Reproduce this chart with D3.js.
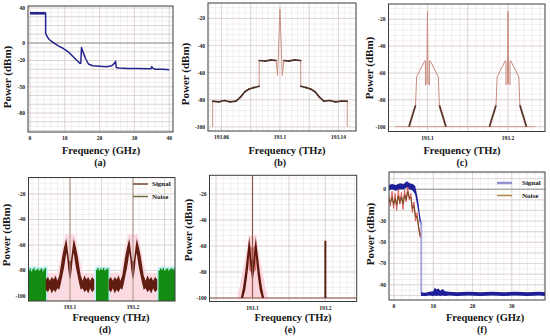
<!DOCTYPE html>
<html>
<head>
<meta charset="utf-8">
<script src="https://cdn.jsdelivr.net/npm/d3@7"></script>
<style>
  body { margin: 0; background: #fff; }
  svg { display: block; }
  text { font-family: "Liberation Serif", "Times New Roman", serif; font-weight: bold; fill: #151515; }
</style>
</head>
<body>
<script>
// ---- (a) electrical spectrum, GHz / dBm
const aBandFreq = [0, 4.5];
const aBandHi = [35.5, 35.5];
const aBandLo = [32.5, 32.5];
const aFreq = [0, 4.5, 4.5, 5.0, 5.5, 6.5, 8, 9.5, 11, 12.5, 13.5, 14.3, 14.6, 14.8, 15.3, 16, 16.8, 18, 20, 22, 23.5, 24.3, 24.6, 24.8, 25.5, 28, 31, 34.7, 35, 35.4, 36, 38, 40];
const aPow = [34, 34, 11, 7, 4, 1, -3, -6, -10, -16, -20, -23, -23, -5, -11, -18, -24, -26, -26.5, -27, -26, -23, -21, -28, -28.5, -29, -29, -29.5, -27, -29, -30, -30, -30.5];

// ---- (b) optical spectrum of one channel, THz / dBm
const bFreq = [193.054, 193.054, 193.058, 193.062, 193.066, 193.070, 193.073, 193.076, 193.079, 193.082, 193.0858, 193.0858, 193.090, 193.094, 193.0973, 193.0984, 193.1, 193.1016, 193.1027, 193.106, 193.110, 193.1142, 193.1142, 193.118, 193.121, 193.124, 193.127, 193.130, 193.134, 193.138, 193.142, 193.146, 193.146];
const bPow = [-100, -81, -81.5, -80.5, -81.5, -81, -78, -74, -72, -71, -70, -51, -51.5, -50.5, -51, -62, -13, -62, -51, -51.5, -50.5, -51, -70, -71, -72, -74, -78, -81, -80.5, -81.5, -81, -81, -100];
// 1 = noisy (dark) segment between point i and i+1
const bDark = [0, 1, 1, 1, 1, 1, 1, 1, 1, 1, 0, 1, 1, 1, 0, 0, 0, 0, 1, 1, 1, 0, 1, 1, 1, 1, 1, 1, 1, 1, 1, 0];

// ---- (c) two channels, THz / dBm
const cCenters = [193.1, 193.2];
const cBase = [193.06, 193.234];
const cOff = [-0.023, -0.0148, -0.0135, -0.0035, -0.0025, -0.0025, -0.0008, 0, 0.0008, 0.0025, 0.0025, 0.0035, 0.0135, 0.0148, 0.023];
const cPow = [-100, -84, -63, -51, -51, -69, -68, -14, -68, -69, -51, -51, -63, -84, -100];
const cDark = [1, 0, 0, 0, 0, 0, 0, 0, 0, 0, 0, 0, 0, 1];

// ---- (d) signal + noise, THz / dBm
const dCenters = [193.1, 193.2];
const dNoiseFreq = [193.034, 193.036, 193.038, 193.040, 193.042, 193.044, 193.046, 193.048, 193.050, 193.052, 193.054, 193.056, 193.058, 193.060, 193.062, null,
  193.1413, 193.1435, 193.1457, 193.1479, 193.1501, 193.1523, 193.1545, 193.1567, 193.1589, 193.1611, null,
  193.2405, 193.2427, 193.2449, 193.2471, 193.2493, 193.2515, 193.2537, 193.2559, 193.2581, 193.2603, 193.2625, 193.2647, 193.2667];
const dNoisePow = [-80, -78.5, -80.5, -79, -78, -80, -79.5, -78.5, -80, -79, -78.5, -80.5, -79, -78, -80, null,
  -79.5, -78, -80, -78.5, -79.5, -78, -80, -79, -78.5, -80, null,
  -80, -78.5, -79.5, -78, -80, -79, -78.5, -80, -79, -78, -79.5, -78.5, -80];
const dHaloOff = [-0.0385, -0.020, -0.016, -0.011, -0.0065, -0.002, 0, 0.002, 0.0065, 0.011, 0.016, 0.020, 0.0385];
const dHaloHi = [-82, -82, -72, -58, -51, -52, -50, -52, -51, -58, -72, -82, -82];
const dSigOff = [-0.0385, -0.035, -0.032, -0.029, -0.026, -0.023, -0.020, -0.017, -0.0145, -0.012, -0.0095, -0.0075, -0.006, -0.0045, -0.003, -0.0015, 0, 0.0015, 0.003, 0.0045, 0.006, 0.0075, 0.0095, 0.012, 0.0145, 0.017, 0.020, 0.023, 0.026, 0.029, 0.032, 0.035, 0.0385];
const dSigHi = [-87, -85, -88, -85, -87, -84, -88, -84, -76, -68, -62, -58, -55, -60, -66, -72, -73, -72, -66, -60, -55, -58, -62, -68, -76, -84, -88, -84, -87, -85, -88, -85, -87];
const dSigLo = [-95, -97, -94, -98, -95, -97, -94, -95, -90, -84, -78, -72, -66, -70, -78, -84, -87, -84, -78, -70, -66, -72, -78, -84, -90, -95, -94, -97, -95, -98, -94, -97, -95];

// ---- (e) THz / dBm
const eOff = [-0.016, -0.013, -0.010, -0.0075, -0.0055, -0.0045, -0.003, -0.0015, 0, 0.0015, 0.003, 0.0045, 0.0055, 0.0075, 0.010, 0.013, 0.016];
const eHi = [-100, -92, -80, -68, -58, -53, -62, -70, -74, -70, -62, -53, -58, -68, -80, -92, -100];
const eLo = [-100, -100, -94, -84, -74, -66, -74, -82, -88, -82, -74, -66, -74, -84, -94, -100, -100];
const eRedOff = [-0.005, -0.0025, 0, 0.0025, 0.005];
const eRedHi = [-56, -60, -62, -60, -56];
const eRedLo = [-78, -80, -82, -80, -78];
const eHaloOff = [-0.021, -0.008, -0.005, 0, 0.005, 0.008, 0.021];
const eHaloHi = [-101, -64, -51, -53, -51, -64, -101];
const eCh1 = 193.1, eCh2 = 193.2, eCh2Pow = -56;

// ---- (f) GHz / dBm
const fSigFreq = [-1.3, -0.5, 0.5, 1.5, 2.5, 3.2, 4, 4.8, 5.4, 5.8, 6.2, 6.6, 6.9];
const fSigHi = [4, 5, 4, 5.5, 5, 7.5, 5.5, 5, 3, -4, -12, -24, -30];
const fSigLo = [-1, 0, -1.5, 0, 0, 1.5, 0, -1.5, -5, -13, -21, -32, -34];
const fDropFreq = 6.95;
const fDropPow = [-30, -99];
const fFloorFreq = [6.9, 8, 9, 10, 10.4, 10.8, 11.3, 11.8, 12.4, 13, 14, 16, 19, 22, 25, 28, 31, 34, 37, 38.5];
const fFloorHi = [-97, -97.5, -96.5, -96, -92.5, -94.5, -93.5, -95.5, -94, -96, -96.5, -97, -96.5, -97, -96.5, -97, -96.5, -97, -96.5, -97];
const fFloorLo = [-100.5, -100.5, -100, -100.5, -100, -100.5, -100, -100.5, -100, -100.5, -100, -100.5, -100, -100.5, -100, -100.5, -100, -100.5, -100, -100.5];
const fNoiseFreq = [-1.3, -0.9, -0.5, -0.1, 0.3, 0.7, 1.1, 1.5, 1.9, 2.3, 2.7, 3.1, 3.5, 3.9, 4.3, 4.7, 5.1, 5.5, 5.9, 6.3, 6.7];
const fNoiseRed = [-6, -16, -2, -18, -4, -20, 0, -14, -3, -19, -1, -12, 2, -10, -4, -22, -12, -30, -22, -38, -46];
const fNoiseDark = [-10, -12, -8, -14, -9, -15, -6, -12, -7, -14, -5, -10, -2, -8, -8, -18, -16, -26, -26, -36, -44];

const svg = d3.select('body').append('svg').attr('width', 550).attr('height', 336);

function stepsIn(dom, step) {
  const [lo, hi] = d3.extent(dom);
  return d3.range(Math.ceil(lo / step - 1e-6), Math.floor(hi / step + 1e-6) + 1).map(i => i * step);
}

function setupPanel(p) {
  const [l, r, t, b] = p.box;
  const x = d3.scaleLinear().domain(p.xDom).range([l, r]);
  const y = d3.scaleLinear().domain(p.yDom).range([t, b]);
  const g = svg.append('g').attr('id', 'panel-' + p.id);

  const grid = g.append('g');
  const vlines = (vals, col, w) => grid.append('g').selectAll('line').data(vals).join('line')
    .attr('x1', d => x(d)).attr('x2', d => x(d)).attr('y1', t).attr('y2', b)
    .attr('stroke', col).attr('stroke-width', w);
  const hlines = (vals, col, w) => grid.append('g').selectAll('line').data(vals).join('line')
    .attr('x1', l).attr('x2', r).attr('y1', d => y(d)).attr('y2', d => y(d))
    .attr('stroke', col).attr('stroke-width', w);
  vlines(stepsIn(p.xDom, p.xMinor), '#ede4e4', 0.6);
  hlines(stepsIn(p.yDom, p.yMinor), '#ede4e4', 0.6);
  vlines(stepsIn(p.xDom, p.xMajor), '#d6cccc', 0.7);
  hlines(stepsIn(p.yDom, p.yMajor), '#d6cccc', 0.7);

  g.append('clipPath').attr('id', 'clip-' + p.id)
    .append('rect').attr('x', l).attr('y', t).attr('width', r - l).attr('height', b - t);
  const plot = g.append('g').attr('clip-path', `url(#clip-${p.id})`);

  g.append('rect').attr('x', l).attr('y', t).attr('width', r - l).attr('height', b - t)
    .attr('fill', 'none').attr('stroke', '#3c3c3c').attr('stroke-width', 1);

  g.append('g').selectAll('text').data(p.yTicks).join('text')
    .attr('x', l - 3).attr('y', d => y(d)).attr('dy', '0.35em')
    .attr('text-anchor', 'end').attr('font-size', 5.5).text(d => d);
  g.append('g').selectAll('text').data(p.xTicks).join('text')
    .attr('x', d => x(d)).attr('y', b + 8)
    .attr('text-anchor', 'middle').attr('font-size', 5.5).text(d => d);

  g.append('text').attr('x', p.xTitle[0]).attr('y', p.xTitle[1])
    .attr('text-anchor', 'middle').attr('font-size', 10.5).text(p.xLabel);
  g.append('text').attr('x', p.cap[0]).attr('y', p.cap[1])
    .attr('text-anchor', 'middle').attr('font-size', 10).text(`(${p.id})`);
  g.append('text').attr('transform', `translate(${p.yTitle[0]},${p.yTitle[1]}) rotate(-90)`)
    .attr('text-anchor', 'middle').attr('dy', '0.35em').attr('font-size', 11).text('Power (dBm)');

  return { x, y, g, plot };
}

function legend(g, x0, y0, items) {
  items.forEach((it, i) => {
    const yy = y0 + i * 12.5;
    g.append('line').attr('x1', x0).attr('x2', x0 + 15).attr('y1', yy).attr('y2', yy)
      .attr('stroke', it.color).attr('stroke-width', it.width);
    g.append('text').attr('x', x0 + it.gap).attr('y', yy).attr('dy', '0.35em')
      .attr('font-size', 7).text(it.label);
  });
}

// ---------------- (a)
{
  const P = setupPanel({ id: 'a', box: [28, 173, 6, 132], xDom: [-0.57, 41.09], yDom: [42.3, -101.7],
    xMinor: 2, xMajor: 10, yMinor: 5, yMajor: 10,
    xTicks: [0, 10, 20, 30, 40], yTicks: [40, 0, -20, -50, -80],
    xLabel: 'Frequency (GHz)', xTitle: [101, 154], cap: [100, 166], yTitle: [7, 77] });
  const { x, y, plot } = P;
  plot.append('line').attr('x1', x(-1)).attr('x2', x(42)).attr('y1', y(0)).attr('y2', y(0))
    .attr('stroke', '#8c8c8c').attr('stroke-width', 0.9);
  plot.append('path').datum(d3.zip(aBandFreq, aBandHi, aBandLo))
    .attr('d', d3.area().x(d => x(d[0])).y0(d => y(d[2])).y1(d => y(d[1])))
    .attr('fill', '#26268f');
  plot.append('path').datum(d3.zip(aFreq, aPow))
    .attr('d', d3.line().x(d => x(d[0])).y(d => y(d[1])))
    .attr('fill', 'none').attr('stroke', '#24248e').attr('stroke-width', 1.5).attr('stroke-linejoin', 'round');
}

// ---------------- (b)
{
  const P = setupPanel({ id: 'b', box: [208, 356, 3, 131], xDom: [193.0508, 193.152], yDom: [-8.6, -103],
    xMinor: 0.004, xMajor: 0.02, yMinor: 4, yMajor: 20,
    xTicks: [193.06, 193.1, 193.14], yTicks: [-20, -40, -60, -80, -100],
    xLabel: 'Frequency (THz)', xTitle: [287, 154], cap: [280, 166], yTitle: [185, 74] });
  const { x, y, plot } = P;
  const pts = d3.zip(bFreq, bPow);
  const segs = d3.pairs(pts).map((s, i) => ({ s, dark: bDark[i] }));
  plot.append('g').selectAll('line').data(segs.filter(d => !d.dark)).join('line')
    .attr('x1', d => x(d.s[0][0])).attr('y1', d => y(d.s[0][1]))
    .attr('x2', d => x(d.s[1][0])).attr('y2', d => y(d.s[1][1]))
    .attr('stroke', '#c99284').attr('stroke-width', 1);
  plot.append('g').selectAll('line').data(segs.filter(d => d.dark)).join('line')
    .attr('x1', d => x(d.s[0][0])).attr('y1', d => y(d.s[0][1]))
    .attr('x2', d => x(d.s[1][0])).attr('y2', d => y(d.s[1][1]))
    .attr('stroke', '#4d3024').attr('stroke-width', 1.7).attr('stroke-linecap', 'round');
}

// ---------------- (c)
{
  const P = setupPanel({ id: 'c', box: [388.5, 545, 4, 131.5], xDom: [193.0516, 193.246], yDom: [-8.6, -103.6],
    xMinor: 0.01, xMajor: 0.05, yMinor: 4, yMajor: 20,
    xTicks: [193.1, 193.2], yTicks: [-20, -40, -60, -80, -100],
    xLabel: 'Frequency (THz)', xTitle: [462, 154], cap: [462, 166], yTitle: [369, 68] });
  const { x, y, plot } = P;
  plot.append('line').attr('x1', x(cBase[0])).attr('x2', x(cBase[1])).attr('y1', y(-100)).attr('y2', y(-100))
    .attr('stroke', '#cf9a8e').attr('stroke-width', 1);
  cCenters.forEach(c => {
    const pts = cOff.map((o, i) => [c + o, cPow[i]]);
    const segs = d3.pairs(pts).map((s, i) => ({ s, dark: cDark[i] }));
    plot.append('g').selectAll('line').data(segs).join('line')
      .attr('x1', d => x(d.s[0][0])).attr('y1', d => y(d.s[0][1]))
      .attr('x2', d => x(d.s[1][0])).attr('y2', d => y(d.s[1][1]))
      .attr('stroke', d => d.dark ? '#5a3426' : '#c98c7e')
      .attr('stroke-width', d => d.dark ? 1.8 : 1);
  });
}

// ---------------- (d)
{
  const P = setupPanel({ id: 'd', box: [28.5, 175, 177.5, 301], xDom: [193.0341, 193.2667], yDom: [-7.1, -103.9],
    xMinor: 0.01, xMajor: 0.05, yMinor: 4, yMajor: 20,
    xTicks: [193.1, 193.2], yTicks: [-20, -40, -60, -80, -100],
    xLabel: 'Frequency (THz)', xTitle: [111, 321], cap: [105, 333], yTitle: [6, 235] });
  const { x, y, plot, g } = P;
  const bottom = -110;
  // pink halo under the signal
  dCenters.forEach(c => {
    plot.append('path').datum(dHaloOff.map((o, i) => [c + o, dHaloHi[i]]))
      .attr('d', d3.area().x(d => x(d[0])).y0(y(bottom)).y1(d => y(d[1])))
      .attr('fill', '#fcdae1');
  });
  // noise blocks
  const noise = d3.zip(dNoiseFreq, dNoisePow);
  const nArea = d3.area().defined(d => d[0] !== null).curve(d3.curveStepAfter)
    .x(d => x(d[0])).y0(y(bottom)).y1(d => y(d[1]));
  plot.append('path').datum(noise).attr('d', nArea)
    .attr('fill', 'none').attr('stroke', '#b9eeee').attr('stroke-width', 3);
  plot.append('path').datum(noise).attr('d', nArea).attr('fill', '#148c14');
  // signal
  dCenters.forEach(c => {
    plot.append('path').datum(dSigOff.map((o, i) => [c + o, dSigHi[i], dSigLo[i]]))
      .attr('d', d3.area().x(d => x(d[0])).y0(d => y(d[2])).y1(d => y(d[1])))
      .attr('fill', '#611d10');
    plot.append('line').attr('x1', x(c)).attr('x2', x(c)).attr('y1', y(bottom)).attr('y2', y(-5))
      .attr('stroke', '#a88e80').attr('stroke-width', 1);
  });
  legend(g, 133, 184, [
    { label: 'Signal', color: '#74452c', width: 1.5, gap: 19 },
    { label: 'Noise', color: '#6e6e3e', width: 1.5, gap: 19 }
  ]);
}

// ---------------- (e)
{
  const P = setupPanel({ id: 'e', box: [209.5, 356.7, 175.3, 301.5], xDom: [193.041, 193.243], yDom: [-5.6, -102.7],
    xMinor: 0.01, xMajor: 0.05, yMinor: 4, yMajor: 20,
    xTicks: [193.1, 193.2], yTicks: [-20, -40, -60, -80, -100],
    xLabel: 'Frequency (THz)', xTitle: [293, 321], cap: [290, 333], yTitle: [188, 230] });
  const { x, y, plot } = P;
  plot.append('path').datum(eHaloOff.map((o, i) => [eCh1 + o, eHaloHi[i]]))
    .attr('d', d3.area().x(d => x(d[0])).y0(y(-101)).y1(d => y(d[1])))
    .attr('fill', '#fbd3da');
  plot.append('line').attr('x1', x(193.041)).attr('x2', x(193.243)).attr('y1', y(-100)).attr('y2', y(-100))
    .attr('stroke', '#8a5545').attr('stroke-width', 1);
  plot.append('path').datum(eRedOff.map((o, i) => [eCh1 + o, eRedHi[i], eRedLo[i]]))
    .attr('d', d3.area().x(d => x(d[0])).y0(d => y(d[2])).y1(d => y(d[1])))
    .attr('fill', '#d97676');
  plot.append('path').datum(eOff.map((o, i) => [eCh1 + o, eHi[i], eLo[i]]))
    .attr('d', d3.area().x(d => x(d[0])).y0(d => y(d[2])).y1(d => y(d[1])))
    .attr('fill', '#5c170c');
  plot.append('line').attr('x1', x(eCh1)).attr('x2', x(eCh1)).attr('y1', y(-100)).attr('y2', y(-4))
    .attr('stroke', '#8d5a48').attr('stroke-width', 1.2);
  plot.append('line').attr('x1', x(eCh2)).attr('x2', x(eCh2)).attr('y1', y(-100)).attr('y2', y(eCh2Pow))
    .attr('stroke', '#5a2010').attr('stroke-width', 2);
}

// ---------------- (f)
{
  const P = setupPanel({ id: 'f', box: [389, 545, 172, 300], xDom: [-1.27, 38.47], yDom: [16.2, -104.3],
    xMinor: 2, xMajor: 10, yMinor: 5, yMajor: 10,
    xTicks: [0, 10, 20, 30], yTicks: [0, -30, -50, -70, -90],
    xLabel: 'Frequency (GHz)', xTitle: [485, 321], cap: [482, 333], yTitle: [370, 234] });
  const { x, y, plot, g } = P;
  plot.append('line').attr('x1', x(-2)).attr('x2', x(40)).attr('y1', y(0)).attr('y2', y(0))
    .attr('stroke', '#8c8c8c').attr('stroke-width', 0.9);
  const band = d3.area().x(d => x(d[0])).y0(d => y(d[2])).y1(d => y(d[1]));
  plot.append('path').datum(d3.zip(fSigFreq, fSigHi, fSigLo)).attr('d', band).attr('fill', '#1e1e98');
  plot.append('line').attr('x1', x(fDropFreq)).attr('x2', x(fDropFreq))
    .attr('y1', y(fDropPow[0])).attr('y2', y(fDropPow[1]))
    .attr('stroke', '#a8a8e0').attr('stroke-width', 2);
  plot.append('path').datum(d3.zip(fFloorFreq, fFloorHi, fFloorLo)).attr('d', band).attr('fill', '#1e1e98');
  const ln = d3.line().x(d => x(d[0])).y(d => y(d[1]));
  plot.append('path').datum(d3.zip(fNoiseFreq, fNoiseRed)).attr('d', ln)
    .attr('fill', 'none').attr('stroke', '#e25050').attr('stroke-width', 0.9);
  plot.append('path').datum(d3.zip(fNoiseFreq, fNoiseDark)).attr('d', ln)
    .attr('fill', 'none').attr('stroke', '#7a4a22').attr('stroke-width', 1.2);
  legend(g, 497, 183, [
    { label: 'Signal', color: '#9090d2', width: 2.5, gap: 25 },
    { label: 'Noise', color: '#b08848', width: 1.5, gap: 25 }
  ]);
}
</script>
</body>
</html>
